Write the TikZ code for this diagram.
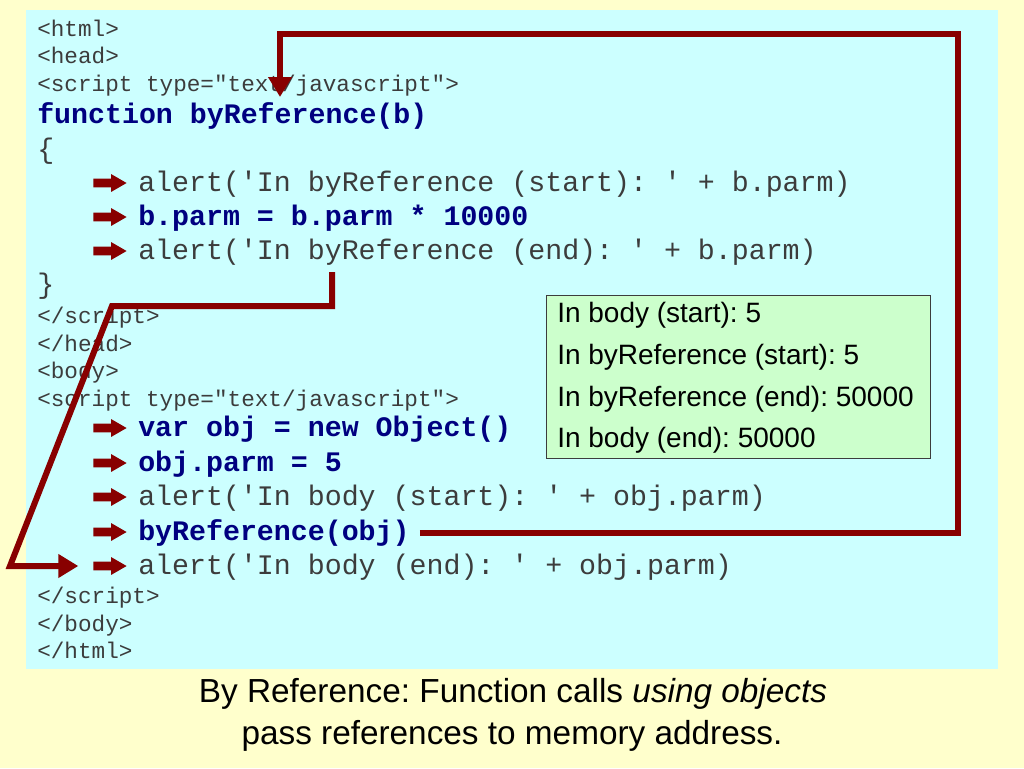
\documentclass[tikz,border=0pt]{standalone}
\usepackage{fontspec}
\setmainfont{Liberation Sans}
\newfontfamily\codefont{Liberation Mono}
\usepackage{xcolor}
\usetikzlibrary{arrows.meta}
\usetikzlibrary{shapes.arrows}
\frenchspacing

\definecolor{slideyellow}{RGB}{255,255,204}
\definecolor{codecyan}{RGB}{204,255,255}
\definecolor{outgreen}{RGB}{204,255,204}
\definecolor{codegray}{RGB}{60,60,60}
\definecolor{codenavy}{RGB}{0,0,128}
\definecolor{jumpred}{RGB}{136,0,0}

\tikzset{
  codesmall/.style={anchor=mid west, inner sep=0pt, text=codegray, font=\codefont\fontsize{17}{20}\selectfont},
  codebig/.style={anchor=mid west, inner sep=0pt, text=codegray, font=\codefont\fontsize{21.2}{25}\selectfont},
  codebold/.style={anchor=mid west, inner sep=0pt, text=codenavy, font=\codefont\bfseries\fontsize{21.2}{25}\selectfont},
  pointer/.style={single arrow, fill=jumpred, draw=none, inner sep=3pt, minimum height=25pt, single arrow head extend=3.5pt, single arrow head indent=0pt, single arrow tip angle=60, anchor=west},
  jump/.style={draw=jumpred, line width=4.5pt, line join=miter, miter limit=3, -{Triangle[length=15pt,width=17pt]}},
  outtext/.style={anchor=mid west, inner sep=0pt, text=black, font=\fontsize{21}{25}\selectfont},
  caption/.style={anchor=base, inner sep=0pt, text=black, font=\fontsize{25}{30}\selectfont}
}

\begin{document}
\begin{tikzpicture}[x=0.75pt,y=0.75pt,yscale=-1,xscale=1]
\useasboundingbox (0,0) rectangle (1024,768);

%Shape: Rectangle [slide]
\fill [slideyellow] (0,0) rectangle (1024,768);
%Shape: Rectangle [code area]
\fill [codecyan] (26,10) rectangle (998,669);

% Text Node
\node (l1) [codesmall] at (37,33) {<html>};
\node (l2) [codesmall] at (37,60) {<head>};
\node (l3) [codesmall] at (37,88) {<script type="text/javascript">};
\node (fnline) [codebold] at (37,120) {function byReference(b)};
\node (l5) [codebig] at (37,155) {\{};
\node (fnstart) [codebig] at (138,188) {alert(\textquotesingle In byReference (start): \textquotesingle\ + b.parm)};
\node (fnmul) [codebold] at (138,222) {b.parm = b.parm * 10000};
\node (fnend) [codebig] at (138,256) {alert(\textquotesingle In byReference (end): \textquotesingle\ + b.parm)};
\node (l9) [codebig] at (37,290) {\}};
\node (l10) [codesmall] at (37,320) {</script>};
\node (l11) [codesmall] at (37,348) {</head>};
\node (l12) [codesmall] at (37,375) {<body>};
\node (l13) [codesmall] at (37,403) {<script type="text/javascript">};
\node (newobj) [codebold] at (138,433) {var obj = new Object()};
\node (setparm) [codebold] at (138,468) {obj.parm = 5};
\node (bodystart) [codebig] at (138,502) {alert(\textquotesingle In body (start): \textquotesingle\ + obj.parm)};
\node (callline) [codebold] at (138,537) {byReference(obj)};
\node (bodyend) [codebig] at (138,571) {alert(\textquotesingle In body (end): \textquotesingle\ + obj.parm)};
\node (l19) [codesmall] at (37,600) {</script>};
\node (l20) [codesmall] at (37,628) {</body>};
\node (l21) [codesmall] at (37,655) {</html>};

%Shape: Single Arrow
\node (pt1) [pointer] at (93,183) {};
\node (pt2) [pointer] at (93,217) {};
\node (pt3) [pointer] at (93,251) {};
\node (pt4) [pointer] at (93,428) {};
\node (pt5) [pointer] at (93,463) {};
\node (pt6) [pointer] at (93,497) {};
\node (pt7) [pointer] at (93,532) {};
\node (pt8) [pointer] at (93,566) {};

%Shape: Rectangle [output]
\node (outbox) [draw=codegray, line width=0.6pt, fill=outgreen, anchor=north west, inner sep=0pt, minimum width=288pt, minimum height=122pt] at (546,295) {};
% Text Node
\node (out1) [outtext] at (557,319) {In body (start): 5};
\node (out2) [outtext] at (557,361) {In byReference (start): 5};
\node (out3) [outtext] at (557,403) {In byReference (end): 50000};
\node (out4) [outtext] at (557,444) {In body (end): 50000};

%Straight Lines [call]
\coordinate (callTR) at (958,34);
\coordinate (callTL) at (280,34);
\coordinate (calltip) at (280,97);
\draw [jump] ([xshift=7.5pt]callline.east) -| (callTR) -- (callTL) -- (calltip);

%Straight Lines [return]
\coordinate (retstart) at (332,272);
\coordinate (retTR) at (332,306);
\coordinate (retTL) at (112,306);
\coordinate (retBL) at (10,566);
\draw [jump] (retstart) -- (retTR) -- (retTL) -- (retBL) -- ([xshift=-11pt]pt8.west);

% Text Node
\node (cap1) [caption] at (513,702) {By Reference: Function calls \textit{using objects}};
\node (cap2) [caption] at (512,744) {pass references to memory address.};

\end{tikzpicture}
\end{document}
